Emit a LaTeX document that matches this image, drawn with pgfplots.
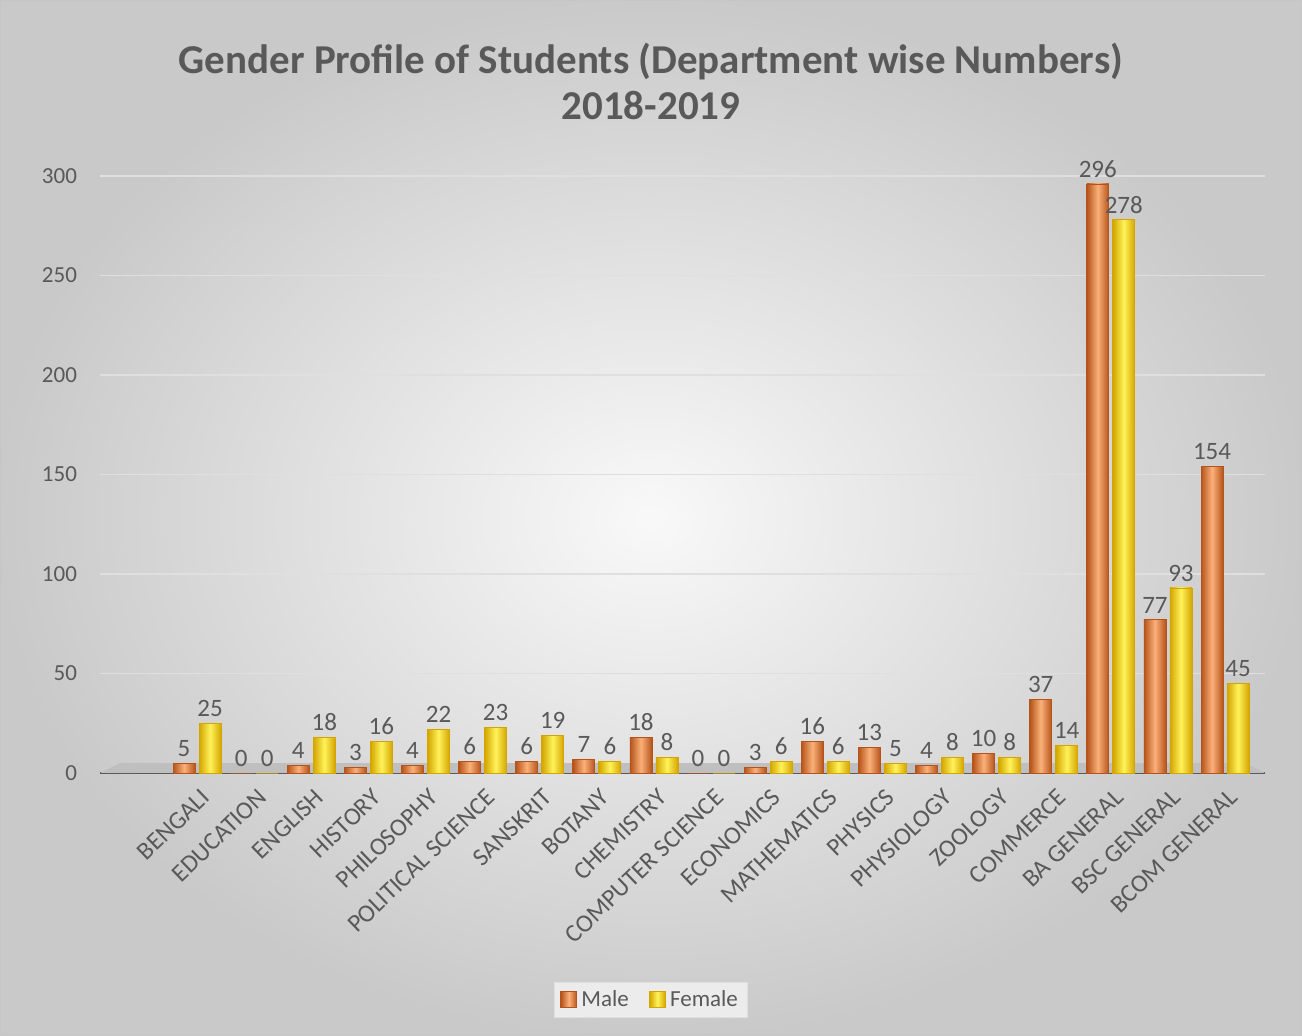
\documentclass[border=0pt]{standalone}
\usepackage{pgfplots}
\pgfplotsset{compat=1.18}
\usepackage{fontspec}
\setmainfont{Carlito}
\definecolor{male}{HTML}{ED7D31}
\definecolor{maleD}{HTML}{B5541A}
\definecolor{maleL}{HTML}{FBB07A}
\definecolor{fem}{HTML}{FFD21F}
\definecolor{femD}{HTML}{D4A500}
\definecolor{femL}{HTML}{FFF35A}
\definecolor{txt}{HTML}{595959}
\pgfplotsset{
  malebar/.style={ybar, bar width=11pt, bar shift=-6.5pt, draw=maleD, line width=0.4pt, left color=maleD, right color=maleD, middle color=maleL, every node near coord/.append style={xshift=-6.5pt}},
  fembar/.style={ybar, bar width=11pt, bar shift=6.5pt, draw=femD, line width=0.4pt, left color=femD, right color=femD, middle color=femL, every node near coord/.append style={xshift=6.5pt}},
}
\begin{document}
\begin{tikzpicture}
\shade[inner color=white!95!gray, outer color=gray!42] (0pt,0pt) rectangle (651pt,517.5pt);
\draw[gray!45] (0.3pt,0.3pt) rectangle (650.7pt,517.2pt);
\node[font=\fontsize{20.5}{23}\selectfont\bfseries, text=txt, align=center] at (325.5pt,477pt) {Gender Profile of Students (Department wise Numbers)\\2018-2019};
\begin{axis}[
  at={(50pt,131pt)}, anchor=south west,
  scale only axis, width=582.5pt, height=298.5pt,
  ymin=0, ymax=300, xmin=-1.7, xmax=18.7,
  clip=false,
  axis x line*=bottom, axis y line*=left,
  y axis line style={draw=none},
  x axis line style={draw=black!70, line width=1.3pt},
  major tick length=0pt,
  ytick={0,50,...,300},
  ymajorgrids, grid style={gray!25, line width=0.7pt},
  xtick={0,...,18},
  xticklabels={BENGALI,EDUCATION,ENGLISH,HISTORY,PHILOSOPHY,POLITICAL SCIENCE,SANSKRIT,BOTANY,CHEMISTRY,COMPUTER SCIENCE,ECONOMICS,MATHEMATICS,PHYSICS,PHYSIOLOGY,ZOOLOGY,COMMERCE,BA GENERAL,BSC GENERAL,BCOM GENERAL},
  xticklabel style={rotate=44, anchor=north east, font=\fontsize{12.5}{14}\selectfont, text=txt, inner sep=1pt, xshift=-3pt, yshift=-5pt},
  yticklabel style={font=\fontsize{11.5}{13}\selectfont, text=txt, xshift=-8pt},
  /pgf/number format/assume math mode=true,
  nodes near coords,
  nodes near coords align={vertical},
  nodes near coords style={font=\fontsize{12.5}{14}\selectfont, text=txt, /pgf/number format/assume math mode=true, inner sep=3pt},
  legend style={at={(0.473,-0.38)}, anchor=center, legend columns=2, draw=gray!25, fill=gray!15, font=\fontsize{11.5}{13}\selectfont, text=txt, /tikz/every even column/.append style={column sep=8pt}},
  legend image code/.code={\draw[#1, line width=0.6pt] (0pt,-4pt) rectangle (8pt,4pt);},
]
\fill[gray!50] (axis cs:-1.7,0) -- (axis cs:18.7,0) -- (axis cs:18.35,5) -- (axis cs:-1.35,5) -- cycle;
\addlegendimage{draw=maleD, left color=maleD, right color=maleD, middle color=maleL}
\addlegendimage{draw=femD, left color=femD, right color=femD, middle color=femL}
\pgfplotsforeachungrouped \i/\v in {0/5, 1/0, 2/4, 3/3, 4/4, 5/6, 6/6, 7/7, 8/18, 9/0, 10/3, 11/16, 12/13, 13/4, 14/10, 15/37, 16/296, 17/77, 18/154}{
  \edef\doit{\noexpand\addplot[malebar, forget plot] coordinates {(\i,\v)};}
  \doit
}
\pgfplotsforeachungrouped \i/\v in {0/25, 1/0, 2/18, 3/16, 4/22, 5/23, 6/19, 7/6, 8/8, 9/0, 10/6, 11/6, 12/5, 13/8, 14/8, 15/14, 16/278, 17/93, 18/45}{
  \edef\doit{\noexpand\addplot[fembar, forget plot] coordinates {(\i,\v)};}
  \doit
}
\legend{Male,Female}
\end{axis}
\end{tikzpicture}
\end{document}
